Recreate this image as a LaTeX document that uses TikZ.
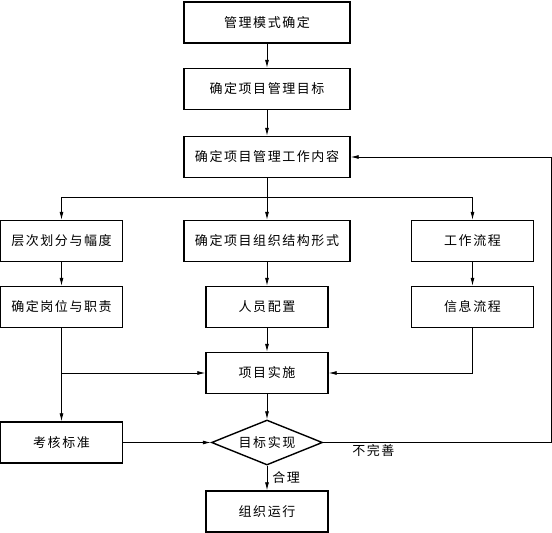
\documentclass[tikz,border=0pt]{standalone}
\usepackage{fontspec}
\newfontfamily\zhfont[LetterSpace=12]{Noto Sans CJK SC}
\usetikzlibrary{calc, shapes.geometric, arrows.meta}

\begin{document}
\begin{tikzpicture}[
		x=1pt, y=-1pt,
		box/.style={rectangle, draw, line width=1.4pt, minimum height=41, inner sep=0, font=\zhfont\fontsize{13}{15}\selectfont},
		wide/.style={box, minimum width=166},
		small/.style={box, minimum width=122},
		check/.style={diamond, draw, line width=1.4pt, aspect=2.5, minimum width=111, minimum height=45, inner sep=0, font=\zhfont\fontsize{13}{15}\selectfont},
		flow/.style={-{Latex[length=8,width=4]}, line width=0.8pt},
		lab/.style={font=\zhfont\fontsize{13}{15}\selectfont, inner sep=2}]
		\useasboundingbox (0,0) rectangle (552,533);
		\node[wide] (mode) at (267,22.5)  {管理模式确定};
		\node[wide] (aim)  at (267,89)    {确定项目管理目标};
		\node[wide] (work) at (267,157)   {确定项目管理工作内容};
		\node[small] (level) at (61.5,241)  {层次划分与幅度};
		\node[wide]  (form)  at (267,241)   {确定项目组织结构形式};
		\node[small] (job)   at (472.5,241) {工作流程};
		\node[small] (post)  at (61.5,307)  {确定岗位与职责};
		\node[small] (staff) at (267,307)   {人员配置};
		\node[small] (info)  at (472.5,307) {信息流程};
		\node[small] (run)   at (267,373)   {项目实施};
		\node[small] (exam)  at (61.5,442.5) {考核标准};
		\node[check] (goal)  at (267,442.5) {目标实现};
		\node[small] (org)   at (267,511.5) {组织运行};
		\coordinate (split) at (267,197);
		\coordinate (join) at ($ (post.south |- run.west) $);
		\coordinate (back) at (551,442.5);

		\draw[flow] (mode) -- (aim);
		\draw[flow] (aim) -- (work);
		\draw[flow] (work) -- (form);
		\draw[flow] (split) -| (level);
		\draw[flow] (split) -| (job);
		\draw[flow] (level) -- (post);
		\draw[flow] (form) -- (staff);
		\draw[flow] (job) -- (info);
		\draw[flow] (staff) -- (run);
		\draw[flow] (post) -- (exam);
		\draw[flow] (join) -- (run);
		\draw[flow] (info) |- (run);
		\draw[flow] (run) -- (goal);
		\draw[flow] (exam) -- (goal);
		\draw[flow] (goal) -- node[right, lab, xshift=3]{合理} (org);
		\draw[flow] (goal.east) -- node[pos=0.22, below, lab]{不完善} (back) |- (work.east);
\end{tikzpicture}
\end{document}
